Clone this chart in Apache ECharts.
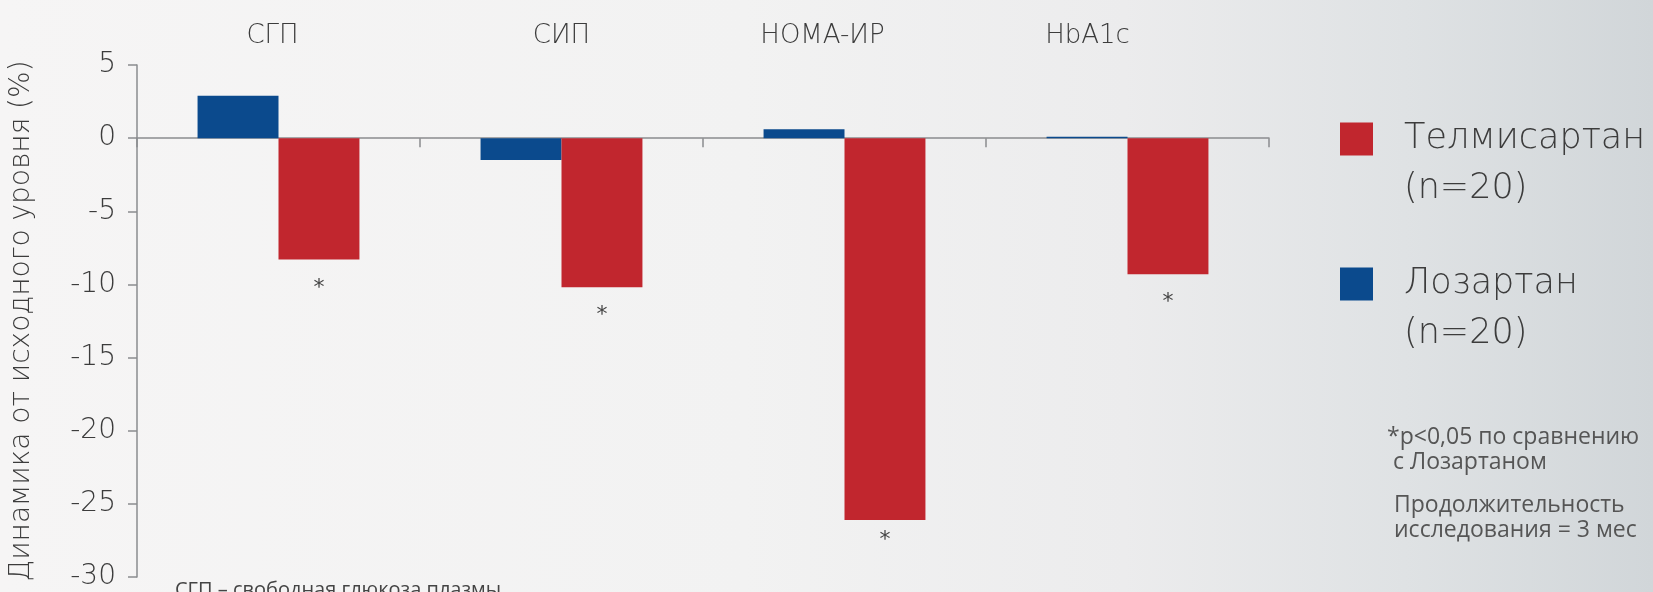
<!DOCTYPE html>
<html>
<head>
<meta charset="utf-8">
<script src="https://cdn.jsdelivr.net/npm/echarts@6/dist/echarts.min.js"></script>
<style>
  html, body { margin: 0; padding: 0; }
  body {
    width: 1653px; height: 592px; overflow: hidden;
    background: linear-gradient(to right, #f6f5f5 0%, #f2f2f2 45%, #ececed 68%, #dfe2e4 85%, #d1d6d9 100%);
  }
  #chart { width: 1653px; height: 592px; }
</style>
</head>
<body>
<div id="chart"></div>
<script>
// Indicators (top labels)
const categories = ['СГП', 'СИП', 'HOMA-ИР', 'HbA1c'];
// Change from baseline, %
const losartan = [2.9, -1.5, 0.6, 0.1];
const telmisartan = [-8.3, -10.2, -26.1, -9.3];
// Significance marks under telmisartan bars
const sigMarks = ['*', '*', '*', '*'];
// Group sizes shown in the legend
const seriesNames = ['Телмисартан', 'Лозартан'];
const groupSizes = ['(n=20)', '(n=20)'];
// Value axis ticks
const yMin = -30, yMax = 5, yStep = 5;

const RED = '#c1262e';
const BLUE = '#0b4a8d';
const AXIS = '#8a8c8f';
const TEXT = '#3c3c3c';
const LIGHT_FONT = 'DejaVu Sans';

// gap between a bar end and its significance mark
const markGap = [18, 17, 9, 17];
// leftward nudge of each header label
const headerShift = [6, 0, 22, 40];

const headerRich = {};
headerShift.forEach(function (s, i) {
  headerRich['h' + i] = {
    fontFamily: LIGHT_FONT, fontWeight: 300, fontSize: 26, color: TEXT,
    padding: [0, 2 * s, 0, 0]
  };
});

const chart = echarts.init(document.getElementById('chart'), null, { renderer: 'canvas' });

chart.setOption({
  backgroundColor: 'transparent',
  animation: false,
  grid: { left: 135, right: 384, top: 65, bottom: 15, containLabel: false },
  legend: {
    orient: 'vertical',
    left: 1340,
    top: 64,
    padding: 0,
    itemGap: -5,
    itemWidth: 33,
    itemHeight: 33,
    icon: 'rect',
    selectedMode: false,
    data: seriesNames,
    // leading empty line keeps the swatch level with the name line
    formatter: function (name) {
      return '\n' + name + '\n' + groupSizes[seriesNames.indexOf(name)];
    },
    textStyle: {
      fontFamily: LIGHT_FONT,
      fontWeight: 300,
      fontSize: 35,
      lineHeight: 50,
      color: TEXT,
      padding: [0, 0, 0, 26]
    }
  },
  xAxis: [
    {
      type: 'category',
      data: categories,
      position: 'bottom',
      axisLine: { onZero: true, lineStyle: { color: AXIS, width: 1.5 } },
      axisTick: { show: true, length: 9, lineStyle: { color: AXIS, width: 1.5 } },
      axisLabel: { show: false },
      splitLine: { show: false }
    },
    {
      type: 'category',
      data: categories,
      position: 'top',
      axisLine: { show: false },
      axisTick: { show: false },
      axisLabel: {
        show: true,
        margin: 16,
        formatter: function (value, index) {
          return '{h' + index + '|' + value + '}';
        },
        rich: headerRich
      }
    }
  ],
  yAxis: {
    type: 'value',
    min: yMin,
    max: yMax,
    interval: yStep,
    name: 'Динамика от исходного уровня (%)',
    nameLocation: 'middle',
    nameGap: 101,
    nameTextStyle: { fontFamily: LIGHT_FONT, fontWeight: 300, fontSize: 28, color: TEXT },
    axisLine: { show: true, lineStyle: { color: AXIS, width: 1.5 } },
    axisTick: { show: true, length: 9, lineStyle: { color: AXIS, width: 1.5 } },
    axisLabel: { margin: 21, fontFamily: LIGHT_FONT, fontWeight: 300, fontSize: 28, color: TEXT },
    splitLine: { show: false }
  },
  series: [
    {
      name: 'Лозартан',
      type: 'bar',
      data: losartan,
      barWidth: '28.6%',
      barGap: '0%',
      itemStyle: { color: BLUE },
      z: 3
    },
    {
      name: 'Телмисартан',
      type: 'bar',
      data: telmisartan.map(function (v, i) {
        return { value: v, label: { distance: markGap[i] } };
      }),
      barWidth: '28.6%',
      barGap: '0%',
      itemStyle: { color: RED },
      z: 3,
      label: {
        show: true,
        position: 'bottom',
        fontFamily: 'DejaVu Sans',
        fontSize: 22,
        color: '#444',
        formatter: function (p) { return sigMarks[p.dataIndex]; }
      }
    }
  ],
  graphic: [
    {
      type: 'text',
      left: 1387,
      top: 425,
      style: {
        text: '*p<0,05 по сравнению\n с Лозартаном',
        fontFamily: 'Open Sans',
        fontSize: 23,
        lineHeight: 25,
        fill: '#555'
      }
    },
    {
      type: 'text',
      left: 1394,
      top: 493,
      style: {
        text: 'Продолжительность\nисследования = 3 мес',
        fontFamily: 'Open Sans',
        fontSize: 23,
        lineHeight: 25,
        fill: '#555'
      }
    },
    {
      type: 'text',
      left: 175,
      top: 580,
      style: {
        text: 'СГП – свободная глюкоза плазмы',
        fontFamily: 'Open Sans',
        fontSize: 20,
        fill: '#444'
      }
    }
  ]
});
</script>
</body>
</html>
